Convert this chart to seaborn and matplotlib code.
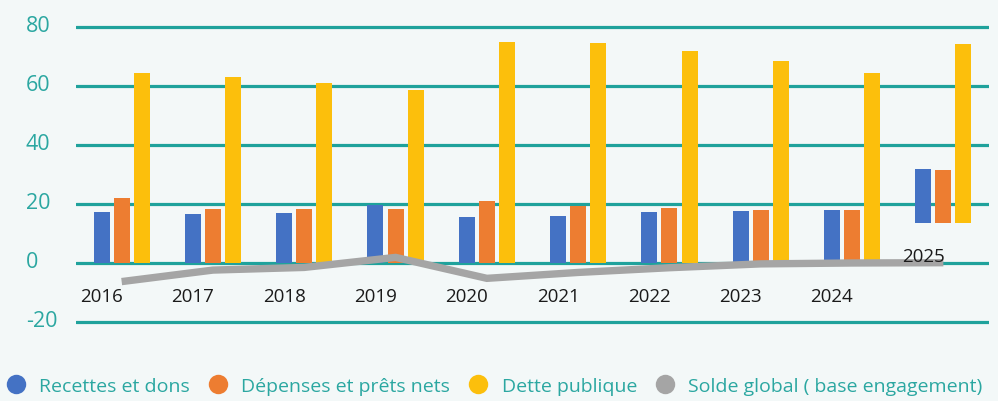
import numpy as np
import pandas as pd
import seaborn as sns
import matplotlib.pyplot as plt
from matplotlib.lines import Line2D
from matplotlib.transforms import ScaledTranslation

# ── données ─────────────────────────────────────────────
years = ["2016", "2017", "2018", "2019", "2020", "2021", "2022", "2023", "2024", "2025"]
recettes = [17.3, 16.7, 17.0, 19.8, 15.6, 16.0, 17.3, 17.7, 18.0, 18.4]
depenses = [22.1, 18.4, 18.4, 18.4, 21.1, 19.4, 18.7, 18.0, 18.0, 18.0]
dette = [64.3, 62.9, 60.9, 58.8, 74.8, 74.5, 71.8, 68.4, 64.3, 60.5]
solde = [-6.3, -2.4, -1.5, 1.9, -5.2, -3.2, -1.6, -0.3, 0.0, 0.1]
# base des barres (2025 est décalée dans l'original)
barBase = [0, 0, 0, 0, 0, 0, 0, 0, 0, 13.6]
seriesNames = ["Recettes et dons", "Dépenses et prêts nets", "Dette publique", "Solde global ( base engagement)"]
yTicks = [-20, 0, 20, 40, 60, 80]

# ── style ───────────────────────────────────────────────
BG = "#F3F8F8"
TEAL = "#1FA29C"
TEXT_TEAL = "#2BA7A1"
COLORS = ["#4472C4", "#ED7D31", "#FCBF0C", "#A5A5A5"]

sns.set_theme(style="white")
plt.rcParams["font.family"] = ["Open Sans", "DejaVu Sans"]

fig = plt.figure(figsize=(9.98, 4.02), dpi=100, facecolor=BG)
ax = fig.add_axes([76 / 998, 1 - 325.95 / 402, (989 - 76) / 998, (325.95 - 25.05) / 402])
ax.set_facecolor(BG)

xPos = np.arange(len(years))
barW = 0.175
offsets = [-0.22, 0.0, 0.22]
base = np.array(barBase)
for vals, off, col in zip([recettes, depenses, dette], offsets, COLORS[:3]):
    ax.bar(xPos + off, vals, width=barW, bottom=base, color=col, zorder=2, linewidth=0)

lineDf = pd.DataFrame({"x": xPos, "solde": solde})
sns.lineplot(data=lineDf, x="x", y="solde", ax=ax, color=COLORS[3], linewidth=5.3,
             zorder=3, solid_capstyle="butt", solid_joinstyle="miter")

# axes
ax.set_xlim(-0.5, len(years) - 0.5)
ax.set_ylim(-21, 81)
ax.set_yticks(yTicks)
ax.set_yticklabels([str(v) for v in yTicks], fontsize=15.5, color=TEXT_TEAL)
ax.tick_params(axis="y", length=0, pad=36)
for lbl in ax.get_yticklabels():
    lbl.set_horizontalalignment("left")
    lbl.set_transform(lbl.get_transform() + ScaledTranslation(0, 4 / 100, fig.dpi_scale_trans))
ax.set_xticks([])
ax.set_xlabel("")
ax.set_ylabel("")
ax.yaxis.grid(True, color=TEAL, linewidth=2.3, zorder=1)
ax.set_axisbelow(True)
for s in ax.spines.values():
    s.set_visible(False)

# étiquettes des années (positionnées sous la barre bleue, 2025 à part)
for i, yr in enumerate(years):
    yLbl = 2.4 if yr == "2025" else -11.2
    ax.text(xPos[i] - 0.22, yLbl, yr, ha="center", va="center", fontsize=13.5, color="#1a1a1a", zorder=4)

# légende
handles = [Line2D([0], [0], marker="o", linestyle="", markersize=14, markerfacecolor=c,
                  markeredgewidth=0) for c in COLORS]
fig.legend(handles, seriesNames, loc="center left", bbox_to_anchor=(0.0, 1 - 387 / 402), ncol=4,
           frameon=False, fontsize=14, labelcolor=TEXT_TEAL, handlelength=1.0,
           handletextpad=0.7, columnspacing=0.95, borderaxespad=0, borderpad=0.3)

fig.savefig("out.png", dpi=100, facecolor=BG)
